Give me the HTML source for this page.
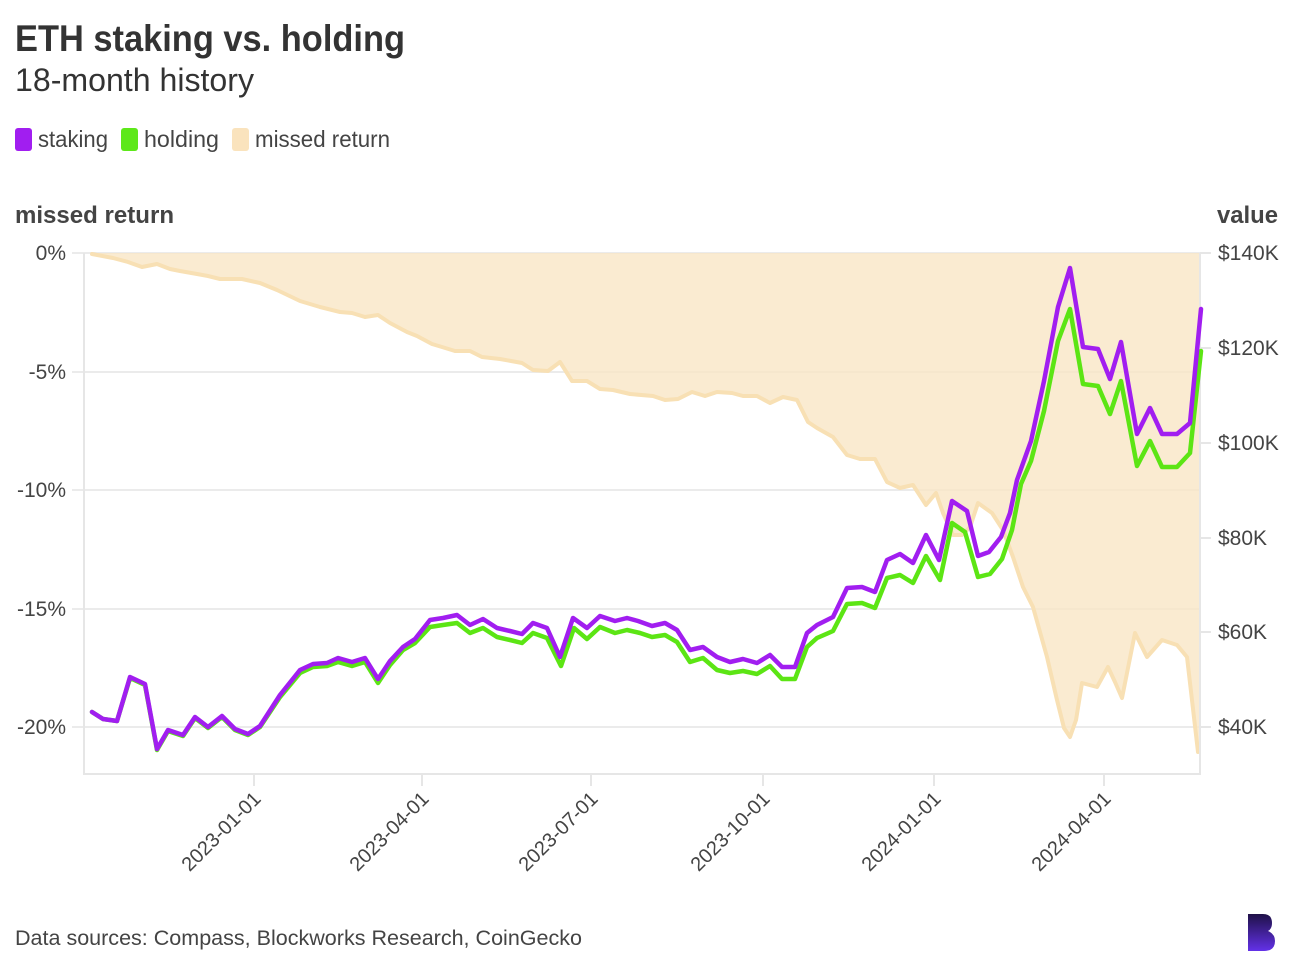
<!DOCTYPE html>
<html>
<head>
<meta charset="utf-8">
<style>
  html, body { margin: 0; padding: 0; background: #ffffff; }
  body { width: 1292px; height: 970px; overflow: hidden; }
  svg { display: block; }
  text { font-family: "Liberation Sans", "DejaVu Sans", sans-serif; }
</style>
</head>
<body>
<svg width="1292" height="970" viewBox="0 0 1292 970" xmlns="http://www.w3.org/2000/svg">
  <defs>
    <linearGradient id="logo" x1="0" y1="0" x2="0" y2="1">
      <stop offset="0" stop-color="#1f1147"/>
      <stop offset="1" stop-color="#6331e8"/>
    </linearGradient>
  </defs>

  <!-- Title -->
  <text x="15" y="51" font-size="37" font-weight="bold" fill="#333" textLength="390" lengthAdjust="spacingAndGlyphs">ETH staking vs. holding</text>
  <text x="15" y="91" font-size="32" fill="#333" textLength="239" lengthAdjust="spacingAndGlyphs">18-month history</text>

  <!-- Legend -->
  <rect x="15" y="128" width="17" height="23" rx="3" fill="#a11ef0"/>
  <text x="38" y="147" font-size="23" fill="#444" textLength="70" lengthAdjust="spacingAndGlyphs">staking</text>
  <rect x="121" y="128" width="17" height="23" rx="3" fill="#5de81a"/>
  <text x="144" y="147" font-size="23" fill="#444" textLength="75" lengthAdjust="spacingAndGlyphs">holding</text>
  <rect x="232" y="128" width="17" height="23" rx="3" fill="#fae3bd"/>
  <text x="255" y="147" font-size="23" fill="#444" textLength="135" lengthAdjust="spacingAndGlyphs">missed return</text>

  <!-- Axis titles -->
  <text x="15" y="223" font-size="24" font-weight="bold" fill="#444" textLength="159" lengthAdjust="spacingAndGlyphs">missed return</text>
  <text x="1278" y="223" font-size="24" font-weight="bold" fill="#444" text-anchor="end" textLength="61" lengthAdjust="spacingAndGlyphs">value</text>

  <!-- Gridlines -->
  <g stroke="#ebebeb" stroke-width="2">
    <line x1="72" y1="253" x2="1200" y2="253"/>
    <line x1="72" y1="372" x2="1200" y2="372"/>
    <line x1="72" y1="490" x2="1200" y2="490"/>
    <line x1="72" y1="609" x2="1200" y2="609"/>
    <line x1="72" y1="727" x2="1200" y2="727"/>
  </g>

  <!-- Missed return area -->
  <path d="M92,254 L113,258 L128,262 L142,267 L157,264 L170,269 L180,271 L197,274 L208,276 L220,279 L242,279 L260,283 L277,290 L300,301 L320,307 L340,312 L352,313 L365,317 L378,315 L390,323 L407,332 L417,336 L432,344 L442,347 L455,351 L470,351 L482,357 L500,359 L522,363 L533,370 L548,371 L560,362 L572,381 L587,381 L600,389 L613,390 L630,394 L653,396 L665,400 L678,399 L692,392 L705,396 L717,392 L732,393 L743,396 L757,396 L770,403 L783,397 L797,400 L808,422 L817,428 L833,437 L847,455 L860,459 L875,459 L887,482 L900,488 L913,485 L926,505 L936,493 L943,513 L953,535 L962,535 L970,527 L978,503 L992,513 L1003,530 L1013,557 L1023,587 L1033,607 L1047,657 L1057,700 L1064,728 L1070,737 L1076,720 L1082,683 L1097,687 L1108,667 L1115,682 L1122,698 L1135,633 L1147,657 L1162,640 L1177,645 L1187,657 L1198,752 L1200,752 L1200,253 L92,253 Z"
        fill="#f9e6c4" fill-opacity="0.78" stroke="none"/>
  <path d="M92,254 L113,258 L128,262 L142,267 L157,264 L170,269 L180,271 L197,274 L208,276 L220,279 L242,279 L260,283 L277,290 L300,301 L320,307 L340,312 L352,313 L365,317 L378,315 L390,323 L407,332 L417,336 L432,344 L442,347 L455,351 L470,351 L482,357 L500,359 L522,363 L533,370 L548,371 L560,362 L572,381 L587,381 L600,389 L613,390 L630,394 L653,396 L665,400 L678,399 L692,392 L705,396 L717,392 L732,393 L743,396 L757,396 L770,403 L783,397 L797,400 L808,422 L817,428 L833,437 L847,455 L860,459 L875,459 L887,482 L900,488 L913,485 L926,505 L936,493 L943,513 L953,535 L962,535 L970,527 L978,503 L992,513 L1003,530 L1013,557 L1023,587 L1033,607 L1047,657 L1057,700 L1064,728 L1070,737 L1076,720 L1082,683 L1097,687 L1108,667 L1115,682 L1122,698 L1135,633 L1147,657 L1162,640 L1177,645 L1187,657 L1198,752"
        fill="none" stroke="#f8e0b4" stroke-width="4" stroke-linejoin="round" stroke-linecap="round"/>

  <!-- Axes -->
  <g stroke="#e6e6e6" stroke-width="2" fill="none">
    <line x1="84" y1="253" x2="84" y2="774"/>
    <line x1="1200" y1="253" x2="1200" y2="774"/>
    <line x1="83" y1="774" x2="1201" y2="774"/>
    <!-- bottom ticks -->
    <line x1="254" y1="774" x2="254" y2="786"/>
    <line x1="422" y1="774" x2="422" y2="786"/>
    <line x1="591" y1="774" x2="591" y2="786"/>
    <line x1="763" y1="774" x2="763" y2="786"/>
    <line x1="934" y1="774" x2="934" y2="786"/>
    <line x1="1104" y1="774" x2="1104" y2="786"/>
    <!-- right ticks -->
    <line x1="1200" y1="253" x2="1211" y2="253"/>
    <line x1="1200" y1="348" x2="1211" y2="348"/>
    <line x1="1200" y1="443" x2="1211" y2="443"/>
    <line x1="1200" y1="538" x2="1211" y2="538"/>
    <line x1="1200" y1="632" x2="1211" y2="632"/>
    <line x1="1200" y1="727" x2="1211" y2="727"/>
  </g>

  <!-- Holding (green) -->
  <polyline points="92,712 103,719 117,721 130,678 145,685 157,750 168,731 183,736 195,718 208,728 222,717 235,730 248,735 260,727 280,697 300,673 313,667 327,666 338,662 352,666 365,662 378,683 390,665 403,650 415,643 430,627 443,625 457,623 470,633 483,628 497,637 510,640 522,643 533,633 547,638 561,666 574,628 587,639 600,627 615,633 627,630 640,633 652,637 665,635 677,642 690,662 703,658 717,670 730,673 743,671 757,674 770,666 782,679 795,679 807,647 817,638 833,631 847,604 862,603 875,608 887,578 900,575 913,583 926,556 940,580 952,523 965,532 978,577 990,574 1002,559 1012,530 1021,484 1031,461 1044,411 1058,341 1070,309 1083,384 1098,386 1110,414 1121,381 1137,466 1150,441 1162,467 1177,467 1190,453 1201,351"
            fill="none" stroke="#5ce514" stroke-width="4.5" stroke-linejoin="round" stroke-linecap="round"/>

  <!-- Staking (purple) -->
  <polyline points="92,712 103,719 117,721 130,677 145,684 157,749 168,730 183,735 195,717 208,727 222,716 235,729 248,734 260,726 280,695 300,670 313,664 327,663 338,658 352,662 365,658 378,679 390,661 403,647 415,639 430,620 443,618 457,615 470,625 483,619 497,628 510,631 522,634 533,623 547,628 560,657 573,618 587,628 600,616 615,621 627,618 638,621 652,626 665,623 677,630 690,650 703,647 717,657 730,662 743,659 757,663 770,655 782,667 795,667 807,633 817,625 833,617 847,588 862,587 875,592 887,560 900,554 913,563 926,535 939,560 952,501 967,511 978,556 989,552 1001,537 1010,513 1017,480 1031,441 1044,381 1058,307 1070,268 1083,347 1098,349 1110,379 1121,342 1137,434 1150,408 1162,434 1177,434 1190,423 1201,309"
            fill="none" stroke="#a11ef0" stroke-width="4.5" stroke-linejoin="round" stroke-linecap="round"/>

  <!-- Left tick labels -->
  <g font-size="21" fill="#444" text-anchor="end">
    <text x="66" y="260">0%</text>
    <text x="66" y="379">-5%</text>
    <text x="66" y="497">-10%</text>
    <text x="66" y="616">-15%</text>
    <text x="66" y="734">-20%</text>
  </g>

  <!-- Right tick labels -->
  <g font-size="21" fill="#444">
    <text x="1218" y="260">$140K</text>
    <text x="1218" y="355">$120K</text>
    <text x="1218" y="450">$100K</text>
    <text x="1218" y="545">$80K</text>
    <text x="1218" y="639">$60K</text>
    <text x="1218" y="734">$40K</text>
  </g>

  <!-- X tick labels -->
  <g font-size="20" fill="#444" text-anchor="end">
    <text transform="translate(262,800) rotate(-45)">2023-01-01</text>
    <text transform="translate(430,800) rotate(-45)">2023-04-01</text>
    <text transform="translate(599,800) rotate(-45)">2023-07-01</text>
    <text transform="translate(771,800) rotate(-45)">2023-10-01</text>
    <text transform="translate(942,800) rotate(-45)">2024-01-01</text>
    <text transform="translate(1112,800) rotate(-45)">2024-04-01</text>
  </g>

  <!-- Source -->
  <text x="15" y="945" font-size="21" fill="#444" textLength="567" lengthAdjust="spacingAndGlyphs">Data sources: Compass, Blockworks Research, CoinGecko</text>

  <!-- Logo -->
  <path d="M1248,914 H1263 Q1272,914 1272,923 Q1272,929 1268,931 Q1275,934 1275,941 Q1275,951 1264,951 H1248 Z" fill="url(#logo)"/>
</svg>
</body>
</html>
